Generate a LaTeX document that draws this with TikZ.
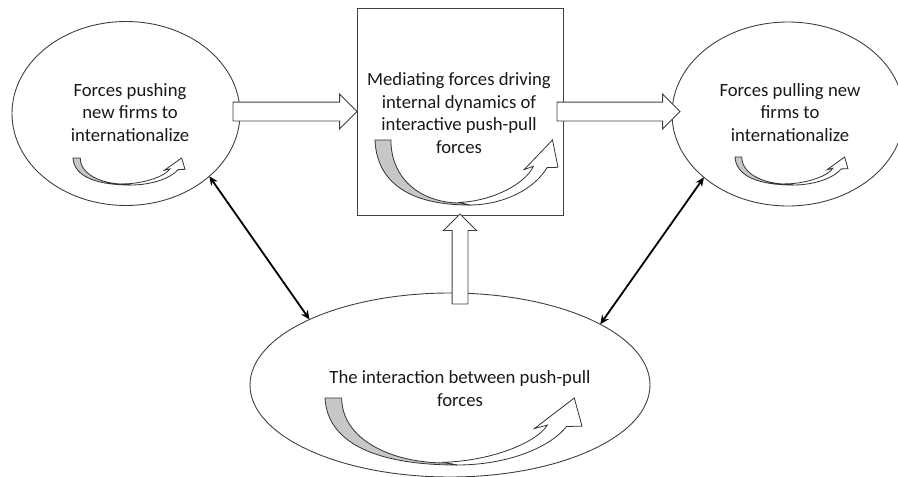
\documentclass[tikz,border=0pt]{standalone}
\usepackage{fontspec}
\setmainfont{Carlito}
\usetikzlibrary{shapes.geometric,shapes.arrows,arrows.meta}

% Curved "U-turn" arrow: grey tail on the left, white band sweeping under
% and up into a head on the right.
% #1 = left x, #2 = bottom y, #3 = width, #4 = height, #5 = tail width (fraction)
\newcommand\bentarrow[5]{%
  \begin{scope}[shift={(#1,#2)},x=#3pt,y=#4pt]
    \filldraw[curve] (0.46,0.04) .. controls (0.64,0.06) and (0.82,0.32) .. (0.865,0.595)
      -- (0.815,0.545) -- (0.97,1) -- (1,0.58) -- (0.94,0.575)
      .. controls (0.87,0.24) and (0.70,0) .. (0.514,0) -- cycle;
    \filldraw[curve, fill=black!22] (0,1) -- (#5,1)
      .. controls (#5,0.40) and (0.25,0.03) .. (0.47,0.03) -- (0.514,0)
      .. controls (0.214,0) and (0.01,0.30) .. (0,1) -- cycle;
  \end{scope}}

\begin{document}
\begin{tikzpicture}[x=1pt,y=-1pt,
  outline/.style={draw=black!75, line width=0.9pt},
  bubble/.style={outline, ellipse, inner sep=0pt, outer sep=0pt},
  txt/.style={font=\fontsize{18.7}{22.5}\selectfont, align=center, text=black!90, inner sep=0pt},
  blockarr/.style={outline, fill=white, single arrow, single arrow head extend=8pt,
    inner xsep=0pt, inner ysep=9pt, minimum width=0pt, outer sep=0pt},
  link/.style={line width=1.8pt, {Stealth[length=9pt,width=8pt]}-{Stealth[length=9pt,width=8pt]}},
  curve/.style={draw=black!80, line width=0.8pt, fill=white, line join=miter}
]
\useasboundingbox (0,0) rectangle (898,477);

% main shapes
\node[bubble, minimum width=228pt, minimum height=184pt] (push) at (126,113.5) {};
\node[bubble, minimum width=232pt, minimum height=184pt] (pull) at (788,114) {};
\node[outline, rectangle, inner sep=0pt, outer sep=0pt,
      minimum width=206pt, minimum height=207pt] (mid) at (460,111.5) {};
\node[bubble, minimum width=400pt, minimum height=184pt] (inter) at (450,385) {};

% labels
\node[txt] (pushtxt) at (130,112.5) {Forces pushing\\new firms to\\internationalize};
\node[txt] (pulltxt) at (790,112.5) {Forces pulling new\\firms to\\internationalize};
\node[txt] (midtxt) at (459,113) {Mediating forces driving\\internal dynamics of\\interactive push-pull\\forces};
\node[txt] (intertxt) at (460,388.5) {The interaction between push-pull\\forces};

% block arrows
\node[blockarr, minimum height=124pt, anchor=tip] (arL) at (mid.west) {};
\node[blockarr, minimum height=123pt, anchor=tail] (arR) at ([xshift=-6pt]mid.east) {};
\node[blockarr, shape border rotate=90, inner sep=7.5pt, single arrow head extend=8.5pt,
      minimum height=90pt, anchor=tip] (arU) at ([yshift=1pt]mid.south) {};

% two-way links to the interaction
\draw[link] (push.-37) -- (inter.155);
\draw[link] (pull.-143) -- (inter.22);

% curved arrows
\bentarrow{73}{185}{112}{27}{0.065}
\bentarrow{735}{185}{113}{28}{0.06}
\bentarrow{375}{205}{183}{65}{0.087}
\bentarrow{325}{465}{257}{67}{0.065}
\end{tikzpicture}
\end{document}
